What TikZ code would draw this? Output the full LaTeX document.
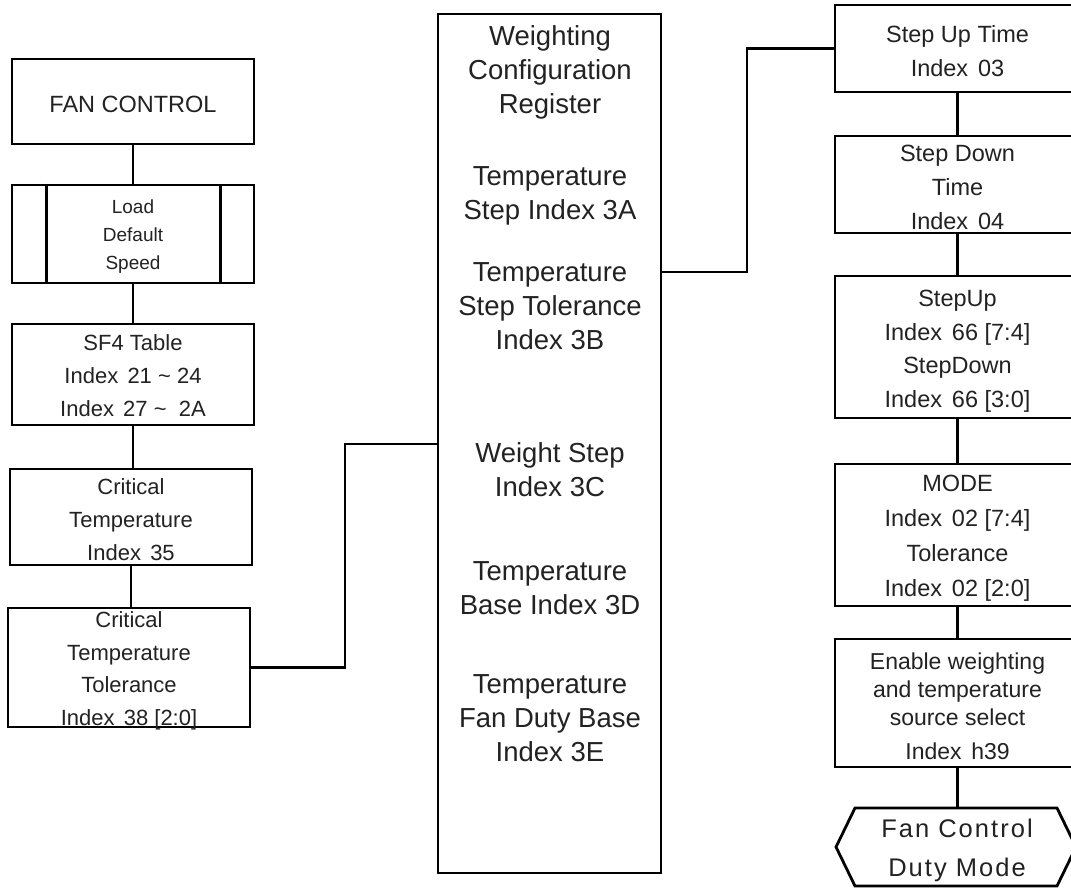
\documentclass[tikz,border=0pt]{standalone}
\usepackage{fontspec}
\setmainfont{Liberation Sans}
\definecolor{txt}{HTML}{222222}
\newcommand{\wsp}{\hspace{0.42em}}
\tikzset{
  boxnode/.style={draw=black, line width=2.8pt, rectangle, inner sep=0pt},
  lbl/.style={inner sep=0pt, align=center, text=txt, font=\fontsize{22}{33}\selectfont},
  plain/.style={inner sep=0pt, align=center, text=txt, font=\fontsize{27.5}{34}\selectfont},
  conn/.style={draw=black, line width=2.8pt},
}
\begin{document}
\begin{tikzpicture}[x=1pt,y=-1pt]
\useasboundingbox (0,0) rectangle (1071,890);
\clip (0,0) rectangle (1071,890);
\fill[white] (0,0) rectangle (1071,890);

% left column
\node[boxnode, minimum width=242pt, minimum height=85pt] (fan) at (133,101.5) {};
\node[lbl, font=\fontsize{23.5}{28}\selectfont] (fanT) at ([yshift=-3pt]fan.center) {FAN CONTROL};
\node[boxnode, minimum width=242pt, minimum height=98pt] (load) at (133,234) {};
\node[lbl, font=\fontsize{19}{28}\selectfont] (loadT) at ([yshift=-3pt]load.center) {Load\\Default\\Speed};
\draw[conn] ([xshift=36pt]load.north west) -- ([xshift=36pt]load.south west);
\draw[conn] ([xshift=-35pt]load.north east) -- ([xshift=-35pt]load.south east);
\node[boxnode, minimum width=242pt, minimum height=101pt] (sf4) at (133,374.5) {};
\node[lbl] (sf4T) at ([yshift=-1pt]sf4.center) {SF4 Table\\Index\wsp 21 \textasciitilde\ 24\\Index\wsp 27 \textasciitilde\ \ 2A};
\node[boxnode, minimum width=242pt, minimum height=96pt] (crit) at (131,517) {};
\node[lbl] (critT) at ([yshift=-2.5pt]crit.center) {Critical\\Temperature\\Index\wsp 35};
\node[boxnode, minimum width=242pt, minimum height=119pt] (tol) at (129,667.5) {};
\node[lbl, font=\fontsize{22}{32.5}\selectfont] (tolT) at ([yshift=-3.5pt]tol.center) {Critical\\Temperature\\Tolerance\\Index\wsp 38 [2:0]};

\draw[conn] (fan.south) -- (load.north);
\draw[conn] (load.south) -- (sf4.north);
\draw[conn] (sf4.south) -- (sf4.south |- crit.north);
\draw[conn] (crit.south) -- (crit.south |- tol.north);

% middle register box
\node[boxnode, minimum width=223pt, minimum height=859pt] (wcr) at (549.5,443.5) {};
\node[plain] (t1) at (550,72) {Weighting\\Configuration\\Register};
\node[plain] (t2) at (550,196) {Temperature\\Step Index 3A};
\node[plain] (t3) at (550,306) {Temperature\\Step Tolerance\\Index 3B};
\node[plain] (t4) at (550,470) {Weight Step\\Index 3C};
\node[plain] (t5) at (550,588) {Temperature\\Base Index 3D};
\node[plain] (t6) at (550,718) {Temperature\\Fan Duty Base\\Index 3E};

\coordinate (j1) at (345,444);
\draw[conn] (tol.east) -| (j1) -- (wcr.west |- j1);

% right column
\node[boxnode, minimum width=245pt, minimum height=87pt] (sut) at (957.5,48.5) {};
\node[lbl, font=\fontsize{23.5}{34}\selectfont] (sutT) at ([yshift=-2.5pt]sut.center) {Step Up Time\\Index\wsp 03};
\node[boxnode, minimum width=245pt, minimum height=97pt] (sdt) at (957.5,184.5) {};
\node[lbl, font=\fontsize{23.5}{34}\selectfont] (sdtT) at ([yshift=-2.5pt]sdt.center) {Step Down\\Time\\Index\wsp 04};
\node[boxnode, minimum width=245pt, minimum height=142pt] (sud) at (957.5,347) {};
\node[lbl, font=\fontsize{23.5}{33.5}\selectfont] (sudT) at ([yshift=-4pt]sud.center) {StepUp\\Index\wsp 66 [7:4]\\StepDown\\Index\wsp 66 [3:0]};
\node[boxnode, minimum width=245pt, minimum height=142pt] (mode) at (957.5,535) {};
\node[lbl, font=\fontsize{23.5}{35}\selectfont] (modeT) at ([yshift=-3.5pt]mode.center) {MODE\\Index\wsp 02 [7:4]\\Tolerance\\Index\wsp 02 [2:0]};
\node[boxnode, minimum width=245pt, minimum height=128pt] (en) at (957.5,703) {};
\node[lbl, font=\fontsize{23}{28}\selectfont] (enT) at ([yshift=-3.5pt]en.center) {Enable weighting\\and temperature\\source select\\[6pt]Index\wsp h39};

\coordinate (j2) at (747,272);
\draw[conn] (wcr.east |- j2) -- (j2) |- (sut.west);
\draw[conn] (sut.south) -- (sdt.north);
\draw[conn] (sdt.south) -- (sud.north);
\draw[conn] (sud.south) -- (mode.north);
\draw[conn] (mode.south) -- (en.north);

% hexagon terminal
\coordinate (hT) at (957.5,808);
\draw[conn, line join=miter] (855,808) -- (1057,808) -- (1076,847) -- (1057,886) -- (855,886) -- (836,847) -- cycle;
\node[inner sep=0pt, align=center, text=txt, font=\fontsize{25.5}{39}\addfontfeature{LetterSpace=8}\selectfont] (fcdm) at (957,850) {Fan\hspace{9pt}Control\\Duty\hspace{9pt}Mode};
\draw[conn] (en.south) -- (hT);
\end{tikzpicture}
\end{document}
